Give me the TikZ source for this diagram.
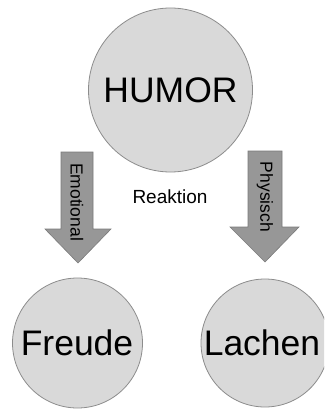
\documentclass[tikz,border=0pt]{standalone}
\usepackage{fontspec}
\setmainfont{Liberation Sans}
\definecolor{circfill}{HTML}{D9D9D9}
\definecolor{circline}{HTML}{8C8C8C}
\definecolor{arrfill}{HTML}{979797}
\definecolor{arrline}{HTML}{7A7A7A}
\begin{document}
\begin{tikzpicture}[x=1pt,y=-1pt,
  bubble/.style={circle, fill=circfill, draw=circline, line width=0.8pt, inner sep=0pt},
  blockarrow/.style={fill=arrfill, draw=arrline, line width=0.6pt},
  arrowlabel/.style={rotate=-90, font=\fontsize{17.5}{20}\selectfont, inner sep=0pt},
  bigtext/.style={font=\fontsize{35.5}{40}\selectfont, inner sep=0pt}]
\useasboundingbox (0,0) rectangle (324,409);
\clip (0,0) rectangle (324,409);
% circles
\node[bubble, minimum size=164pt] (humor) at (170.5,90) {};
\node[bigtext] (humortext) at (170.5,90) {HUMOR};
\node[bubble, minimum size=130pt] (freude) at (77.5,343) {};
\node[bigtext] (freudetext) at (77,343) {Freude};
\node[bubble, minimum size=128pt] (lachen) at (265,343) {};
\node[bigtext] (lachentext) at (262,343) {Lachen};
% block arrows
\draw[blockarrow] (61,152) -- (93,152) -- (93,229) -- (111,229) -- (78,263) -- (45,229) -- (61,229) -- cycle;
\draw[blockarrow] (248,151) -- (282,151) -- (282,227) -- (299,227) -- (265,262) -- (230,227) -- (248,227) -- cycle;
\node[arrowlabel] (emo) at (77,202) {Emotional};
\node[arrowlabel] (phys) at (265,197) {Physisch};
% label
\node[font=\fontsize{19}{22}\selectfont, inner sep=0pt] (reaktion) at (170,197) {Reaktion};
\end{tikzpicture}
\end{document}
